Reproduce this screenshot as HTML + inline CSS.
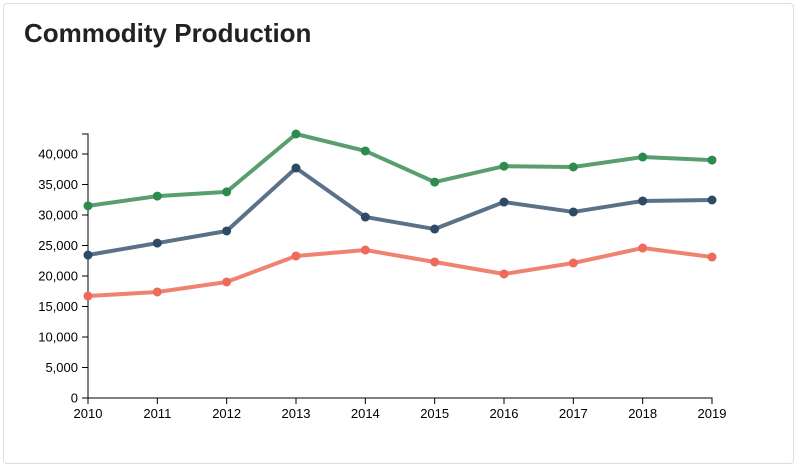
<!DOCTYPE html>
<html><head><meta charset="utf-8"><style>
html,body{margin:0;padding:0;background:#fff;width:799px;height:470px;overflow:hidden}
.card{position:absolute;left:3px;top:3px;width:791px;height:461px;border:1px solid #ddd;border-radius:4px;box-sizing:border-box}
h1{position:absolute;left:24px;top:18px;margin:0;font:bold 26px "Liberation Sans",sans-serif;color:#222}
svg{position:absolute;left:0;top:0}
text{font-family:"Liberation Sans",sans-serif;font-size:13px;fill:#000}
</style></head><body>
<div class="card"></div>
<h1>Commodity Production</h1>
<svg id="c" width="799" height="470"></svg>
<script>
const years=[2010,2011,2012,2013,2014,2015,2016,2017,2018,2019];
const greenVals=[31500,33100,33800,43280,40500,35400,38000,37870,39500,39000];
const blueVals=[23440,25400,27380,37700,29670,27700,32130,30500,32300,32460];
const redVals=[16720,17380,19020,23280,24260,22300,20330,22130,24590,23110];
const yTicks=[0,5000,10000,15000,20000,25000,30000,35000,40000];
const svg=document.getElementById('c');
const NS='http://www.w3.org/2000/svg';
const x0=88,x1=712,yb=398;
const ymax=Math.max(...greenVals,...blueVals,...redVals);
const yTop=134;
function xs(i){return x0+(x1-x0)*i/(years.length-1);}
function ys(v){return yb-(yb-yTop)*v/ymax;}
function el(t,a){const e=document.createElementNS(NS,t);for(const k in a)e.setAttribute(k,a[k]);svg.appendChild(e);return e;}
let ax=el('path',{d:`M${x0-6},${yTop}H${x0}V${yb}H${x1}V${yb+6}`,fill:'none',stroke:'#000'});


yTicks.forEach(v=>{
 const y=ys(v);
 el('line',{x1:x0-6,x2:x0,y1:y,y2:y,stroke:'#000'});
 const t=el('text',{x:x0-10,y:y+4.5,'text-anchor':'end'});t.textContent=v.toLocaleString('en-US');
 
 
});
years.forEach((yr,i)=>{
 const x=xs(i);
 el('line',{x1:x,x2:x,y1:yb,y2:yb+6,stroke:'#000'});
 const t=el('text',{x:x,y:yb+20,'text-anchor':'middle'});t.textContent=yr;
 
 
});
function series(vals,line,dot,name){
 const p=el('polyline',{points:vals.map((v,i)=>xs(i)+','+ys(v)).join(' '),fill:'none',stroke:line,'stroke-width':4,'stroke-linejoin':'round'});
 
 
 vals.forEach((v,i)=>{
  const c=el('circle',{cx:xs(i),cy:ys(v),r:4.5,fill:dot});
  
  
 });
}
series(greenVals,'#5a9e6f','#2e8b4f','green-series');
series(blueVals,'#5a7189','#2f4a66','blue-series');
series(redVals,'#f08272','#ee6a5a','red-series');
</script>
</body></html>
